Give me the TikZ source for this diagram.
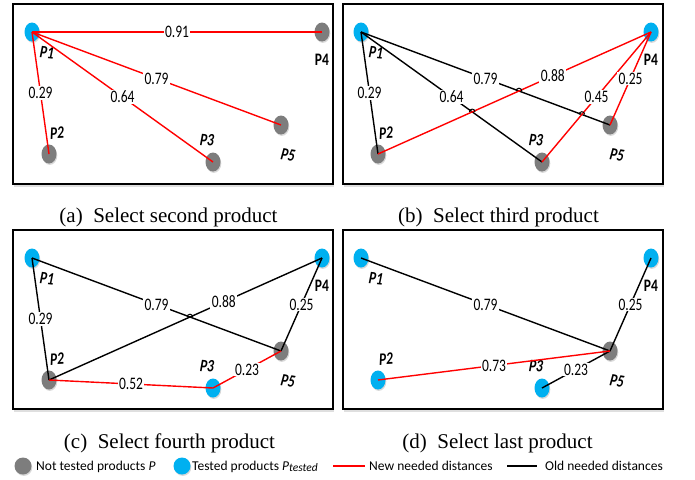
\documentclass[tikz,border=0pt]{standalone}
\usepackage{fontspec}
\setmainfont{Carlito}
\newfontfamily\capfont{Liberation Serif}
\usetikzlibrary{shapes.geometric,shadows}
\definecolor{pblue}{RGB}{0,176,240}
\definecolor{pgrey}{RGB}{125,125,125}
\definecolor{lred}{RGB}{255,0,0}
\newcommand\Tall[1]{\scalebox{1}[1.3]{#1}}
\tikzset{
  pt/.style={ellipse, minimum width=15pt, minimum height=19pt, inner sep=0pt, draw=none,
     drop shadow={opacity=0.3, shadow xshift=0.8pt, shadow yshift=-1.4pt}},
  tested/.style={pt, fill=pblue},
  untested/.style={pt, fill=pgrey},
  plab/.style={font=\fontsize{13.5}{15}\selectfont\bfseries\itshape, inner sep=0pt},
  plabup/.style={font=\fontsize{13.5}{15}\selectfont\bfseries, inner sep=0pt},
  newd/.style={draw=lred, line width=1.4pt},
  oldd/.style={draw=black, line width=1.4pt},
  dlab/.style={fill=white, inner xsep=1.5pt, inner ysep=0.8pt, font=\fontsize{13.5}{15}\selectfont},
  panelbox/.style={draw=black, line width=2pt, fill=white,
     drop shadow={opacity=0.25, shadow xshift=0.5pt, shadow yshift=-2.5pt}},
  subcap/.style={font=\capfont\fontsize{21}{24}\selectfont, anchor=base, inner sep=0pt},
  legtext/.style={font=\fontsize{13.5}{16}\selectfont, anchor=base west, inner sep=0pt},
}
% #1 prefix, #2..#6 styles of P1..P5
\newcommand\DrawPts[6]{%
  \node[#2] (#11) at (32,32) {};
  \node[#3] (#12) at (49,154) {};
  \node[#4] (#13) at (213,162) {};
  \node[#5] (#14) at (322,32) {};
  \node[#6] (#15) at (281,125) {};
  \node[plab, rotate=-6] (#1l1) at (47,53) {\Tall{P1}};
  \node[plab, rotate=3] (#1l2) at (57,133) {\Tall{P2}};
  \node[plab, rotate=-5] (#1l3) at (207,140) {\Tall{P3}};
  \node[plabup] (#1l4) at (322,60) {\Tall{P4}};
  \node[plab, rotate=-10] (#1l5) at (288,155) {\Tall{P5}};
}
\newcommand\Hop[1]{\draw[oldd, line width=1pt] (#1) ++(-2.8,0) arc[start angle=180, end angle=360, radius=2.8];}
\begin{document}
\begin{tikzpicture}[x=1pt,y=-1pt]
\useasboundingbox[fill=white] (0,0) rectangle (695,479);
% panel frames
\draw[panelbox] (13,4) rectangle (333,184);
\draw[panelbox] (343,4) rectangle (663,184);
\draw[panelbox] (13,230) rectangle (333,409);
\draw[panelbox] (343,230) rectangle (663,409);

% (a)
\begin{scope}
  \DrawPts{a}{tested}{untested}{untested}{untested}{untested}
  \draw[newd] (a1.center) -- node[dlab]{\Tall{0.91}} (a4.center);
  \draw[newd] (a1.center) -- node[dlab]{\Tall{0.29}} (a2.center);
  \draw[newd] (a1.center) -- node[dlab]{\Tall{0.64}} (a3.center);
  \draw[newd] (a1.center) -- node[dlab]{\Tall{0.79}} (a5.center);
\end{scope}

% (b)
\begin{scope}[shift={(329,0)}]
  \DrawPts{b}{tested}{untested}{untested}{tested}{untested}
  \draw[oldd] (b1.center) -- node[dlab]{\Tall{0.29}} (b2.center);
  \draw[oldd] (b1.center) -- node[dlab]{\Tall{0.64}} (b3.center);
  \draw[oldd] (b1.center) -- node[dlab]{\Tall{0.79}} (b5.center);
  \draw[newd] (b2.center) -- node[dlab, pos=0.64]{\Tall{0.88}} (b4.center);
  \draw[newd] (b3.center) -- node[dlab]{\Tall{0.45}} (b4.center);
  \draw[newd] (b5.center) -- node[dlab]{\Tall{0.25}} (b4.center);
  \coordinate (bx1) at (intersection of b1.center--b5.center and b2.center--b4.center);
  \coordinate (bx2) at (intersection of b1.center--b3.center and b2.center--b4.center);
  \coordinate (bx3) at (intersection of b1.center--b5.center and b3.center--b4.center);
  \Hop{bx1}\Hop{bx2}\Hop{bx3}
\end{scope}

% (c)
\begin{scope}[shift={(0,226)}]
  \DrawPts{c}{tested}{untested}{tested}{tested}{untested}
  \draw[oldd] (c1.center) -- node[dlab]{\Tall{0.29}} (c2.center);
  \draw[oldd] (c1.center) -- node[dlab]{\Tall{0.79}} (c5.center);
  \draw[oldd] (c2.center) -- node[dlab, pos=0.64]{\Tall{0.88}} (c4.center);
  \draw[oldd] (c5.center) -- node[dlab]{\Tall{0.25}} (c4.center);
  \draw[newd] (c2.center) -- node[dlab]{\Tall{0.52}} (c3.center);
  \draw[newd] (c3.center) -- node[dlab]{\Tall{0.23}} (c5.center);
  \coordinate (cx1) at (intersection of c1.center--c5.center and c2.center--c4.center);
  \Hop{cx1}
\end{scope}

% (d)
\begin{scope}[shift={(329,226)}]
  \DrawPts{d}{tested}{tested}{tested}{tested}{untested}
  \draw[oldd] (d1.center) -- node[dlab]{\Tall{0.79}} (d5.center);
  \draw[oldd] (d4.center) -- node[dlab]{\Tall{0.25}} (d5.center);
  \draw[oldd] (d3.center) -- node[dlab]{\Tall{0.23}} (d5.center);
  \draw[newd] (d2.center) -- node[dlab]{\Tall{0.73}} (d5.center);
\end{scope}

% captions
\node[subcap] (capa) at (168.5,222) {(a)\ \ Select second product};
\node[subcap] (capb) at (498.5,222) {(b)\ \ Select third product};
\node[subcap] (capc) at (169.5,448) {(c)\ \ Select fourth product};
\node[subcap] (capd) at (497.5,448) {(d)\ \ Select last product};

% legend
\node[untested, minimum width=17pt, minimum height=17pt] (lg1) at (23,466) {};
\node[legtext] (lt1) at (36,470.5) {Not tested products \textit{P}};
\node[tested, minimum width=17pt, minimum height=17pt] (lg2) at (182,466) {};
\node[legtext] (lt2) at (192,470.5) {Tested products \textit{P}\raisebox{-1.2pt}{\fontsize{11.5}{12}\selectfont\textit{tested}}};
\coordinate (r1) at (333,466);
\coordinate (r2) at (365,466);
\draw[newd] (r1) -- (r2);
\node[legtext] (lt3) at (369,470.5) {New needed distances};
\coordinate (k1) at (507,466);
\coordinate (k2) at (537,466);
\draw[oldd] (k1) -- (k2);
\node[legtext] (lt4) at (545,470.5) {Old needed distances};
\end{tikzpicture}
\end{document}
